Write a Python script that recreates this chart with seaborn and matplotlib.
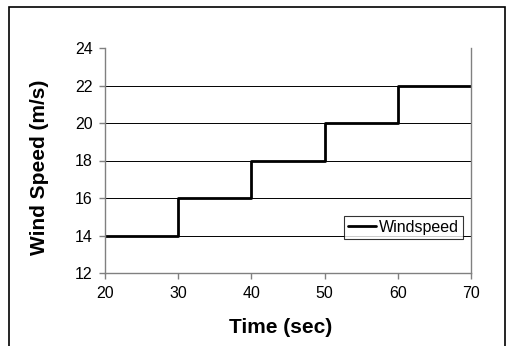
import matplotlib
matplotlib.use("Agg")
import matplotlib.pyplot as plt
import seaborn as sns
import pandas as pd
from matplotlib.patches import Rectangle

time_sec = [20, 30, 40, 50, 60, 70]
wind_speed = [14, 16, 18, 20, 22, 22]
series_name = "Windspeed"
x_ticks = [20, 30, 40, 50, 60, 70]
y_ticks = [12, 14, 16, 18, 20, 22, 24]

sns.set_theme(style="white")
plt.rcParams['font.family'] = ['Liberation Sans', 'DejaVu Sans']
plt.rcParams['text.color'] = 'black'
plt.rcParams['axes.labelcolor'] = 'black'

df = pd.DataFrame({"Time": time_sec, "Speed": wind_speed})

fig = plt.figure(figsize=(5.09, 3.46), dpi=100)
ax = fig.add_axes([105/509, 1-273/346, 366/509, 225/346])

sns.lineplot(data=df, x="Time", y="Speed", ax=ax, color="black", linewidth=2,
             drawstyle="steps-post", label=series_name)

ax.set_xlim(20, 70)
ax.set_ylim(12, 24)
ax.set_xticks(x_ticks)
ax.set_yticks(y_ticks)
for yv in y_ticks[1:-1]:
    ax.axhline(yv, color="black", linewidth=0.7, zorder=0)

for s in ["left", "bottom", "right"]:
    ax.spines[s].set_color("#808080")
    ax.spines[s].set_linewidth(1.0)
ax.spines["top"].set_visible(False)

ax.tick_params(axis="both", which="major", direction="out", length=4, width=1,
               color="#808080", labelsize=11.5, labelcolor="black", pad=5,
               bottom=True, left=True)

ax.set_xlabel("Time (sec)", fontsize=15, fontweight="bold", va="center")
ax.set_ylabel("Wind Speed (m/s)", fontsize=15, fontweight="bold", va="center")
ax.xaxis.set_label_coords(0.481, -0.244)
ax.yaxis.set_label_coords(-0.18, 0.47)

leg = ax.legend(loc="lower right", bbox_to_anchor=(0.978, 0.151), frameon=True,
                fancybox=False, fontsize=11.5, handlelength=1.75, borderpad=0.25,
                handletextpad=0.2, borderaxespad=0)
leg.get_frame().set_edgecolor("black")
leg.get_frame().set_linewidth(0.8)

fig.patches.append(Rectangle((9/509, -0.05), (505-9)/509, 1-7/346+0.05,
                             transform=fig.transFigure, fill=False,
                             edgecolor="black", linewidth=1.2))

fig.savefig("out.png", dpi=100)
